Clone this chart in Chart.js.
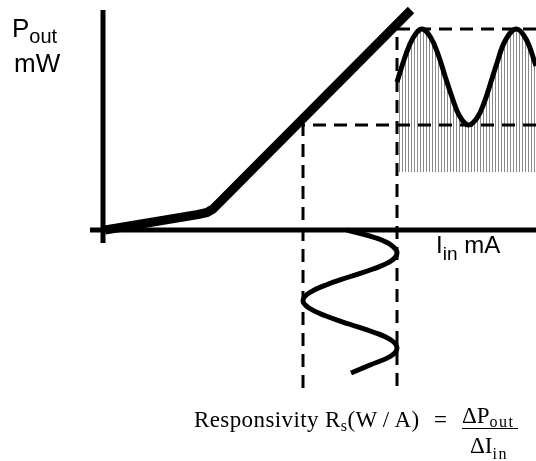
<!DOCTYPE html>
<html>
<head>
<meta charset="utf-8">
<script src="https://cdn.jsdelivr.net/npm/chart.js@4.4.1/dist/chart.umd.min.js"></script>
<style>
body{margin:0;background:#fff;}
#wrap{position:relative;width:536px;height:461px;}
.lbl{position:absolute;line-height:1;white-space:nowrap;color:#000;}
.sans{font-family:"Liberation Sans",Arial,sans-serif;}
.serif{font-family:"Liberation Serif","Times New Roman",serif;font-size:23px;}
.sub{position:relative;}
</style>
</head>
<body>
<div id="wrap">
<canvas id="diagram" width="536" height="461"></canvas>
<div class="lbl sans" style="left:12px;top:15px;font-size:26px">P<span class="sub" style="font-size:20px;top:6px">out</span></div>
<div class="lbl sans" style="left:14px;top:50px;font-size:26px">mW</div>
<div class="lbl sans" style="left:436px;top:233px;font-size:24px">I<span class="sub" style="font-size:19px;top:7px">in</span> mA</div>
<div class="lbl serif" style="left:194px;top:408px;letter-spacing:0.4px">Responsivity R<span class="sub" style="font-size:16px;top:4px">s</span>(W&#8201;/&#8201;A)</div>
<div class="lbl serif" style="left:434px;top:408px">=</div>
<div class="lbl serif" style="left:462px;top:404px">&Delta;P<span class="sub" style="font-size:16px;top:4px;letter-spacing:1.5px">out</span></div>
<div style="position:absolute;left:462px;top:428px;width:56px;height:1px;background:#000"></div>
<div class="lbl serif" style="left:470px;top:434px">&Delta;I<span class="sub" style="font-size:16px;top:6px;letter-spacing:1.5px">in</span></div>
</div>
<script>
// visible extent of the two axes (I in mA, P in mW)
var axisI = [-1.3, 43.3];
var axisP = [-1.3, 22.0];

// laser L-I characteristic (rounded knee at threshold)
var liCurrent = [0.2, 9.5, 10.4, 11.0, 11.6, 30.8];
var liPower = [0.0, 1.55, 1.75, 2.1, 2.7, 22.0];

// operating swing: drive current limits and output power limits
var swingI = [20.0, 29.4];
var swingP = [10.5, 20.1];
var guideBottom = -16.3;
var hatchBase = 5.8;

// modulated optical output (right side)
var outCurrent = [29.4, 30.2, 31.0, 31.9, 32.8, 33.6, 34.2, 34.9, 35.6, 36.5, 37.4, 38.1, 38.7, 39.4, 40.2, 41.3, 42.3, 43.3];
var outPower = [14.8, 17.3, 19.2, 20.1, 19.2, 17.3, 15.4, 13.3, 11.5, 10.5, 11.2, 12.7, 14.5, 16.7, 18.9, 20.1, 19.1, 16.4];

// modulating drive current (time runs downward under the axis)
var inCurrent = [24.4, 27.3, 28.8, 29.4, 28.8, 27.0, 24.6, 22.3, 20.6, 20.0, 20.6, 22.3, 24.6, 27.0, 28.8, 29.4, 28.8, 26.7, 24.8];
var inTime = [0, -0.8, -1.5, -2.3, -3.1, -3.9, -4.7, -5.5, -6.3, -7.05, -7.8, -8.6, -9.4, -10.2, -11.0, -11.8, -12.6, -13.5, -14.3];

function pts(xs, ys) {
  var out = [];
  for (var i in xs) {
    out.push({x: xs[i], y: ys[i]});
  }
  return out;
}

var ctx = document.getElementById('diagram').getContext('2d');

var tile = document.createElement('canvas');
tile.width = 3;
tile.height = 4;
var tc = tile.getContext('2d');
tc.fillStyle = '#8a8a8a';
tc.fillRect(0, 0, 1, 4);
var hatch = ctx.createPattern(tile, 'repeat');

var base = {borderColor: '#000', pointRadius: 0, fill: false, tension: 0};

var datasets = [
  Object.assign({}, base, {
    label: 'L-I curve',
    data: pts(liCurrent, liPower),
    borderWidth: 9,
    borderJoinStyle: 'round',
    order: 0
  }),
  Object.assign({}, base, {
    label: 'drive current',
    data: pts(inCurrent, inTime),
    borderWidth: 5,
    tension: 0.4,
    order: 0
  }),
  Object.assign({}, base, {
    label: 'current axis',
    data: pts(axisI, [0, 0]),
    borderWidth: 5,
    order: 1
  }),
  Object.assign({}, base, {
    label: 'power axis',
    data: pts([0, 0], axisP),
    borderWidth: 5,
    order: 1
  }),
  Object.assign({}, base, {
    label: 'low guide',
    data: pts([axisI[1], swingI[0], swingI[0]], [swingP[0], swingP[0], guideBottom]),
    borderWidth: 3,
    borderDash: [13, 8],
    order: 2
  }),
  Object.assign({}, base, {
    label: 'high guide',
    data: pts([axisI[1], swingI[1], swingI[1]], [swingP[1], swingP[1], guideBottom]),
    borderWidth: 3,
    borderDash: [13, 8],
    order: 2
  }),
  Object.assign({}, base, {
    label: 'optical output',
    data: pts(outCurrent, outPower),
    borderWidth: 5,
    tension: 0.4,
    fill: {value: hatchBase},
    backgroundColor: hatch,
    order: 3
  })
];

var diagram = new Chart(ctx, {
  type: 'line',
  data: {datasets: datasets},
  options: {
    responsive: false,
    animation: false,
    events: [],
    layout: {padding: 0},
    plugins: {legend: {display: false}, tooltip: {enabled: false}},
    scales: {
      x: {type: 'linear', min: -10.3, max: 43.3, display: false},
      y: {type: 'linear', min: -23.1, max: 23.0, display: false}
    }
  }
});
</script>
</body>
</html>
